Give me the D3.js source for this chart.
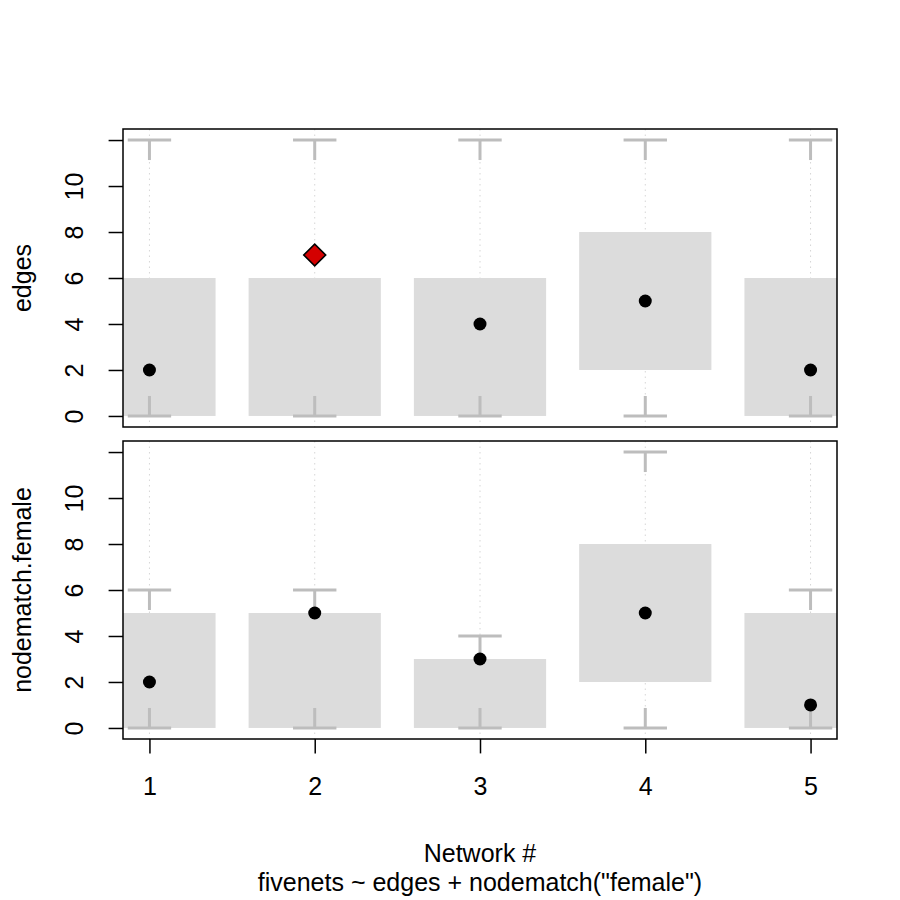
<!DOCTYPE html>
<html>
<head>
<meta charset="utf-8">
<script src="https://cdn.jsdelivr.net/npm/d3@7"></script>
<style>
  body { margin: 0; background: #fff; }
  svg text { font-family: "Liberation Sans", Arial, sans-serif; font-size: 25px; fill: #000; }
</style>
</head>
<body>
<div id="main"></div>
<script>
// network ids along the x axis
const networks = [1, 2, 3, 4, 5];
const yTicks = [0, 2, 4, 6, 8, 10, 12];
const yTickLabels = ['0', '2', '4', '6', '8', '10', ''];
// edges statistic: simulated box (lo/hi), whisker extremes (min/max), observed value
const edgesLo = [0, 0, 0, 2, 0];
const edgesHi = [6, 6, 6, 8, 6];
const edgesMin = [0, 0, 0, 0, 0];
const edgesMax = [12, 12, 12, 12, 12];
const edgesObs = [2, 7, 4, 5, 2];
// nodematch.female statistic
const femaleLo = [0, 0, 0, 2, 0];
const femaleHi = [5, 5, 3, 8, 5];
const femaleMin = [0, 0, 0, 0, 0];
const femaleMax = [6, 6, 4, 12, 6];
const femaleObs = [2, 5, 3, 5, 1];
const xTitle = 'Network #';
const subTitle = 'fivenets ~ edges + nodematch("female")';

function main() {
  const width = 900;
  const height = 900;
  const left = 123; // plot region edges
  const right = 837;
  const tickLen = 14.4;
  const stub = 20; // length of whisker stubs, px
  const capHalf = 21.7; // half width of whisker caps, px

  const svg = d3.select('#main')
    .append('svg')
    .attr('width', width)
    .attr('height', height);

  const x = d3.scaleLinear().domain([0.84, 5.16]).range([left, right]);

  // builds per-network rows from the small arrays
  const rows = (lo, hi, mn, mx, obs) => networks.map((n, i) => ({
    n, lo: lo[i], hi: hi[i], min: mn[i], max: mx[i], obs: obs[i]
  }));

  const panels = [
    { name: 'edges', top: 129, bottom: 427, data: rows(edgesLo, edgesHi, edgesMin, edgesMax, edgesObs) },
    { name: 'nodematch.female', top: 441, bottom: 739, data: rows(femaleLo, femaleHi, femaleMin, femaleMax, femaleObs) }
  ];

  panels.forEach((p, k) => {
    const y = d3.scaleLinear().domain([-0.48, 12.48]).range([p.bottom, p.top]);
    const clipId = `clip${k}`;
    svg.append('clipPath').attr('id', clipId)
      .append('rect')
      .attr('x', left).attr('y', p.top)
      .attr('width', right - left).attr('height', p.bottom - p.top);
    const g = svg.append('g').attr('clip-path', `url(#${clipId})`);

    // dotted guide lines at each network
    g.selectAll('line.guide')
      .data(p.data)
      .enter()
      .append('line')
      .attr('x1', d => x(d.n)).attr('x2', d => x(d.n))
      .attr('y1', p.top).attr('y2', p.bottom)
      .attr('stroke', '#d6d6d6')
      .attr('stroke-width', 1)
      .attr('stroke-dasharray', '1.5,4');

    // grey boxes of the simulated range
    g.selectAll('rect.box')
      .data(p.data)
      .enter()
      .append('rect')
      .attr('x', d => x(d.n - 0.4))
      .attr('width', d => x(d.n + 0.4) - x(d.n - 0.4))
      .attr('y', d => y(d.hi))
      .attr('height', d => y(d.lo) - y(d.hi))
      .attr('fill', '#dcdcdc');

    // whisker caps with short stubs pointing inward
    const whisk = g.selectAll('g.whisk')
      .data(p.data)
      .enter()
      .append('g')
      .attr('stroke', '#bdbdbd')
      .attr('stroke-width', 3);
    whisk.append('line')
      .attr('x1', d => x(d.n) - capHalf).attr('x2', d => x(d.n) + capHalf)
      .attr('y1', d => y(d.max)).attr('y2', d => y(d.max));
    whisk.append('line')
      .attr('x1', d => x(d.n)).attr('x2', d => x(d.n))
      .attr('y1', d => y(d.max)).attr('y2', d => y(d.max) + stub);
    whisk.append('line')
      .attr('x1', d => x(d.n) - capHalf).attr('x2', d => x(d.n) + capHalf)
      .attr('y1', d => y(d.min)).attr('y2', d => y(d.min));
    whisk.append('line')
      .attr('x1', d => x(d.n)).attr('x2', d => x(d.n))
      .attr('y1', d => y(d.min)).attr('y2', d => y(d.min) - stub);

    // observed values: black dot inside the box, red diamond outside
    const inside = p.data.filter(d => d.obs >= d.lo && d.obs <= d.hi);
    const outside = p.data.filter(d => d.obs < d.lo || d.obs > d.hi);
    svg.selectAll(null)
      .data(inside)
      .enter()
      .append('circle')
      .attr('cx', d => x(d.n))
      .attr('cy', d => y(d.obs))
      .attr('r', 6.5)
      .attr('fill', '#000');
    svg.selectAll(null)
      .data(outside)
      .enter()
      .append('path')
      .attr('d', d3.symbol(d3.symbolSquare, 15.5 * 15.5))
      .attr('transform', d => `translate(${x(d.n)},${y(d.obs)}) rotate(45)`)
      .attr('fill', '#d40000')
      .attr('stroke', '#000')
      .attr('stroke-width', 1.6);

    // panel border
    svg.append('rect')
      .attr('x', left).attr('y', p.top)
      .attr('width', right - left).attr('height', p.bottom - p.top)
      .attr('fill', 'none')
      .attr('stroke', '#000')
      .attr('stroke-width', 1.5);

    // y axis
    const yAxis = svg.append('g')
      .attr('transform', `translate(${left},0)`)
      .call(d3.axisLeft(y).tickValues(yTicks).tickSize(tickLen)
        .tickFormat((d, i) => yTickLabels[i]));
    yAxis.select('.domain').remove();
    yAxis.selectAll('.tick line').attr('stroke', '#000').attr('stroke-width', 1.5);
    yAxis.selectAll('.tick text')
      .attr('x', null).attr('dy', null)
      .attr('transform', `translate(${83 - left},0) rotate(-90)`)
      .attr('text-anchor', 'middle')
      .style('font-size', '25px');

    // y axis title
    svg.append('text')
      .attr('transform', `translate(31,${(p.top + p.bottom) / 2}) rotate(-90)`)
      .attr('text-anchor', 'middle')
      .text(p.name);

    // x axis only below the lower panel
    if (k === panels.length - 1) {
      const xAxis = svg.append('g')
        .attr('transform', `translate(0,${p.bottom})`)
        .call(d3.axisBottom(x).tickValues(networks).tickSize(tickLen).tickFormat(d3.format('d')));
      xAxis.select('.domain').remove();
      xAxis.selectAll('.tick line').attr('stroke', '#000').attr('stroke-width', 1.5);
      xAxis.selectAll('.tick text')
        .attr('y', 795 - p.bottom).attr('dy', null)
        .style('font-size', '25px');
    }
  });

  // x title and model formula
  svg.append('text')
    .attr('x', (left + right) / 2).attr('y', 862)
    .attr('text-anchor', 'middle')
    .text(xTitle);
  svg.append('text')
    .attr('x', (left + right) / 2).attr('y', 891)
    .attr('text-anchor', 'middle')
    .text(subTitle);
}

document.addEventListener('DOMContentLoaded', main);
</script>
</body>
</html>
